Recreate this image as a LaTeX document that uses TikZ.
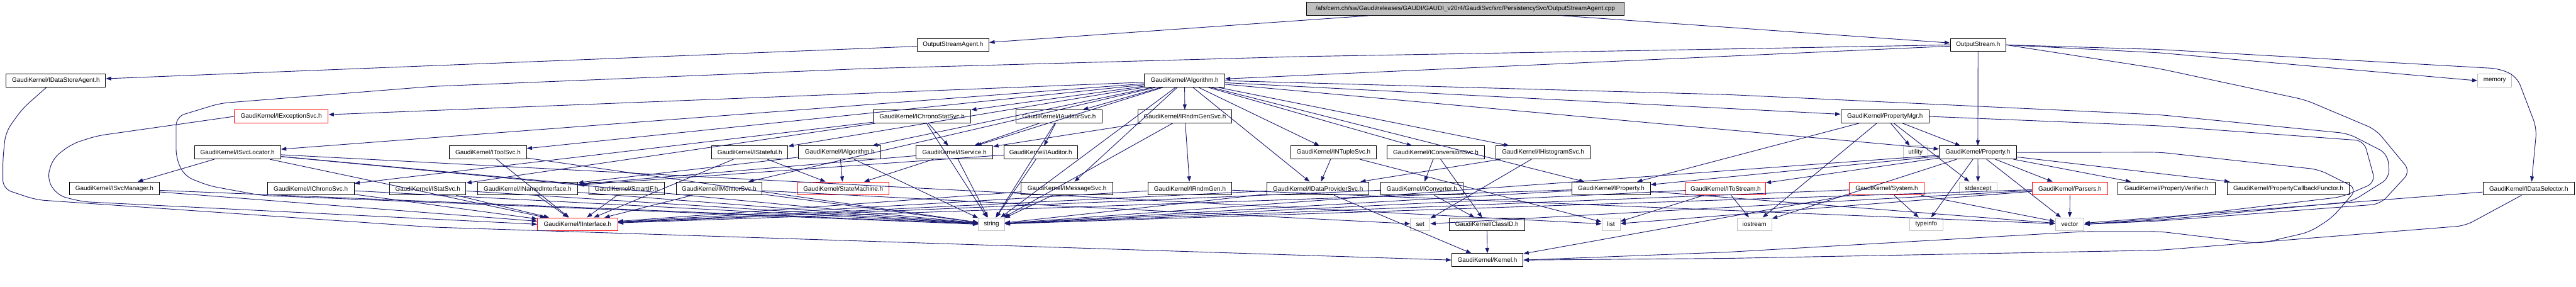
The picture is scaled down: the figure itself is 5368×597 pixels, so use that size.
\documentclass[tikz,border=0pt]{standalone}
\usepackage{fontspec}
\usetikzlibrary{arrows.meta}
\newfontfamily\dx{Liberation Sans}
\definecolor{edgeblue}{RGB}{25,25,112}
\definecolor{sysgray}{RGB}{191,191,191}
\tikzset{
  box/.style={draw=black, line width=1.3pt, minimum height=27pt, inner sep=0pt, font=\dx\fontsize{13}{13}\selectfont},
  redbox/.style={box, draw=red},
  sysbox/.style={box, draw=sysgray},
  topbox/.style={box, fill=sysgray},
  edge/.style={draw=edgeblue, line width=1.2pt, -{Triangle[length=11pt,width=8pt]}},
  loopedge/.style={edge, rounded corners=18pt}
}
\begin{document}
\begin{tikzpicture}[x=1pt,y=-1pt]
\path[use as bounding box] (0,0) rectangle (5368,597);
% row 0
\node[topbox, minimum width=661pt] (top) at (3053.5,18.5) {/afs/cern.ch/sw/Gaudi/releases/GAUDI/GAUDI\_v20r4/GaudiSvc/src/PersistencySvc/OutputStreamAgent.cpp};
% row 1
\node[box, minimum width=150pt] (osa) at (1986,93.5) {OutputStreamAgent.h};
\node[box, minimum width=116pt] (os) at (4122,93.5) {OutputStream.h};
% row 2
\node[box, minimum width=207pt] (idsa) at (116.5,168) {GaudiKernel/IDataStoreAgent.h};
\node[box, minimum width=167pt] (alg) at (2468.5,168) {GaudiKernel/Algorithm.h};
\node[sysbox, minimum width=71pt] (memory) at (5198.5,168) {memory};
% row 3
\node[redbox, minimum width=196pt] (iexc) at (586,242.5) {GaudiKernel/IExceptionSvc.h};
\node[box, minimum width=203pt] (icss) at (1921.5,242.5) {GaudiKernel/IChronoStatSvc.h};
\node[box, minimum width=180pt] (iaudsvc) at (2207,242.5) {GaudiKernel/IAuditorSvc.h};
\node[box, minimum width=196pt] (irgs) at (2469,242.5) {GaudiKernel/IRndmGenSvc.h};
\node[box, minimum width=184pt] (pmgr) at (3928,242.5) {GaudiKernel/PropertyMgr.h};
% row 4
\node[box, minimum width=180pt] (isl) at (495,317.5) {GaudiKernel/ISvcLocator.h};
\node[box, minimum width=160pt] (itool) at (1017,317.5) {GaudiKernel/IToolSvc.h};
\node[box, minimum width=159pt] (istf) at (1562.5,317.5) {GaudiKernel/IStateful.h};
\node[box, minimum width=172pt] (ialg) at (1750,317.5) {GaudiKernel/IAlgorithm.h};
\node[box, minimum width=160pt] (isvc) at (1989,317.5) {GaudiKernel/IService.h};
\node[box, minimum width=153pt] (iaud) at (2168.5,317.5) {GaudiKernel/IAuditor.h};
\node[box, minimum width=178pt] (intup) at (2779,317.5) {GaudiKernel/INTupleSvc.h};
\node[box, minimum width=202pt] (iconvs) at (2992,317.5) {GaudiKernel/IConversionSvc.h};
\node[box, minimum width=197pt] (ihist) at (3215.5,317.5) {GaudiKernel/IHistogramSvc.h};
\node[sysbox, minimum width=51pt] (utility) at (3991.5,317.5) {utility};
\node[box, minimum width=161pt] (prop) at (4121.5,317.5) {GaudiKernel/Property.h};
% row 5
\node[box, minimum width=187pt] (isvcm) at (238.5,392.5) {GaudiKernel/ISvcManager.h};
\node[box, minimum width=181pt] (ichr) at (647.5,392.5) {GaudiKernel/IChronoSvc.h};
\node[box, minimum width=159pt] (istat) at (891.5,392.5) {GaudiKernel/IStatSvc.h};
\node[box, minimum width=209pt] (inamed) at (1099.5,392.5) {GaudiKernel/INamedInterface.h};
\node[box, minimum width=157pt] (smartif) at (1305.5,392.5) {GaudiKernel/SmartIF.h};
\node[box, minimum width=179pt] (imon) at (1498.5,392.5) {GaudiKernel/IMonitorSvc.h};
\node[redbox, minimum width=190pt] (sm) at (1757,392.5) {GaudiKernel/StateMachine.h};
\node[box, minimum width=191pt] (imsg) at (2223.5,392.5) {GaudiKernel/IMessageSvc.h};
\node[box, minimum width=175pt] (irg) at (2479.5,392.5) {GaudiKernel/IRndmGen.h};
\node[box, minimum width=213pt] (idps) at (2746.5,392.5) {GaudiKernel/IDataProviderSvc.h};
\node[box, minimum width=172pt] (iconv) at (2963,392.5) {GaudiKernel/IConverter.h};
\node[box, minimum width=163pt] (iprop) at (3357.5,392.5) {GaudiKernel/IProperty.h};
\node[redbox, minimum width=166pt] (itos) at (3596,392.5) {GaudiKernel/IToStream.h};
\node[redbox, minimum width=155pt] (sys) at (3931.5,392.5) {GaudiKernel/System.h};
\node[sysbox, minimum width=78pt] (stdexcept) at (4122,392.5) {stdexcept};
\node[redbox, minimum width=157pt] (parsers) at (4313.5,392.5) {GaudiKernel/Parsers.h};
\node[box, minimum width=203pt] (pver) at (4514.5,392.5) {GaudiKernel/PropertyVerifier.h};
\node[box, minimum width=255pt] (pcb) at (4768.5,392.5) {GaudiKernel/PropertyCallbackFunctor.h};
\node[box, minimum width=191pt] (idsel) at (5269.5,392.5) {GaudiKernel/IDataSelector.h};
% row 6
\node[redbox, minimum width=167pt] (iint) at (1203.5,467) {GaudiKernel/IInterface.h};
\node[sysbox, minimum width=54pt] (string) at (2066,467) {string};
\node[sysbox, minimum width=41pt] (set) at (2959.5,467) {set};
\node[box, minimum width=157pt] (classid) at (3098.5,467) {GaudiKernel/ClassID.h};
\node[sysbox, minimum width=38pt] (list) at (3357,467) {list};
\node[sysbox, minimum width=72pt] (iostream) at (3656,467) {iostream};
\node[sysbox, minimum width=70pt] (typeinfo) at (4014,467) {typeinfo};
\node[sysbox, minimum width=60pt] (vector) at (4313,467) {vector};
% row 7
\node[box, minimum width=149pt] (kernel) at (3099.5,541.5) {GaudiKernel/Kernel.h};

% straight connectors
\foreach \a/\b in {top/osa, top/os, osa/idsa, os/alg, os/prop,
  alg/string, alg/iprop, alg/ialg, alg/isvc, alg/pmgr, alg/isl, alg/imsg, alg/istf,
  alg/idps, alg/ihist, alg/iconvs, alg/intup, alg/icss, alg/irgs, alg/iaudsvc,
  alg/itool, alg/imon, alg/iexc, alg/prop,
  icss/isvc, icss/ichr, icss/istat, icss/string,
  iaudsvc/isvc, iaudsvc/iaud, iaudsvc/string,
  irgs/isvc, irgs/irg, irgs/string,
  pmgr/iprop, pmgr/iostream, pmgr/stdexcept, pmgr/utility, pmgr/prop,
  isl/isvcm, isl/iint, isl/smartif, isl/string, isl/list,
  itool/iint, itool/string, istf/iint, istf/sm,
  ialg/inamed, ialg/sm, ialg/string, isvc/inamed, isvc/sm, isvc/string,
  iaud/inamed, iaud/string, intup/idps, intup/list,
  iconvs/iconv, iconvs/classid, ihist/idps, ihist/set,
  imsg/iint, imsg/string, irg/iint, irg/vector,
  idps/iint, idps/kernel, idps/string, iconv/iint, iconv/classid, classid/kernel,
  iprop/iint, iprop/string, iprop/vector, itos/iostream, itos/string, itos/list,
  sys/typeinfo, sys/vector, sys/string, sys/kernel,
  prop/stdexcept, prop/parsers, prop/pver, prop/pcb, prop/typeinfo, prop/itos,
  prop/iprop, prop/string, prop/vector, prop/iostream,
  parsers/vector, parsers/string, parsers/set, parsers/list,
  imon/iint, imon/string, imon/set, ichr/iint, ichr/string, istat/iint, istat/string,
  inamed/iint, inamed/string, smartif/iint, isvcm/iint, isvcm/string, idsel/vector}
  \draw[edge] (\a) -- (\b);

% routed connectors
\draw[loopedge] (os.west) -- (3600,102) -- (2700,118) -- (1800,143) -- (900,180) -- (459,215) -- (367,243) -- (367,330) -- (385,367) -- (436,387) -- (545,407) -- (string.west);
\draw[loopedge] ([xshift=-20pt]idsa.south) -- (46,227) -- (12,275) -- (6,330) -- (6,393) -- (75,416) -- (900,473) -- (kernel.west);
\draw[loopedge] (iexc.west) -- (201,283) -- (149,300) -- (110,330) -- (98,373) -- (120,407) -- (172,420) -- (iint.west);
\draw[loopedge] (prop.east) -- (4500,317) -- (4832,353) -- (4912,393) -- (4860,453) -- (4813,483) -- (4710,507) -- (4500,482) -- (4346,482) -- (3600,525) -- (kernel.east);
\draw[loopedge] ([xshift=-15pt]idsel.south) -- (5137,470) -- (4500,521) -- (3600,538) -- (kernel.east);
\draw[loopedge] (os.east) -- (4500,103) -- (5209,143) -- (5245,160) -- (5286,267) -- ([xshift=6pt]idsel.north);
\draw[edge] (os.east) -- (4500,110) -- (memory.west);
\draw[loopedge] (os.east) -- (4500,143) -- (4804,208) -- (4951,270) -- (5023,357) -- (4960,425) -- (4500,460) -- (vector.east);
\draw[loopedge] (alg.east) -- (3600,197) -- (4500,239) -- (4893,278) -- (4975,320) -- (4980,370) -- (4900,420) -- (4500,458) -- (vector.east);
\draw[loopedge] (pmgr.east) -- (4500,262) -- (4926,293) -- (4950,380) -- (4880,410) -- (4500,455) -- (vector.east);
\end{tikzpicture}
\end{document}
